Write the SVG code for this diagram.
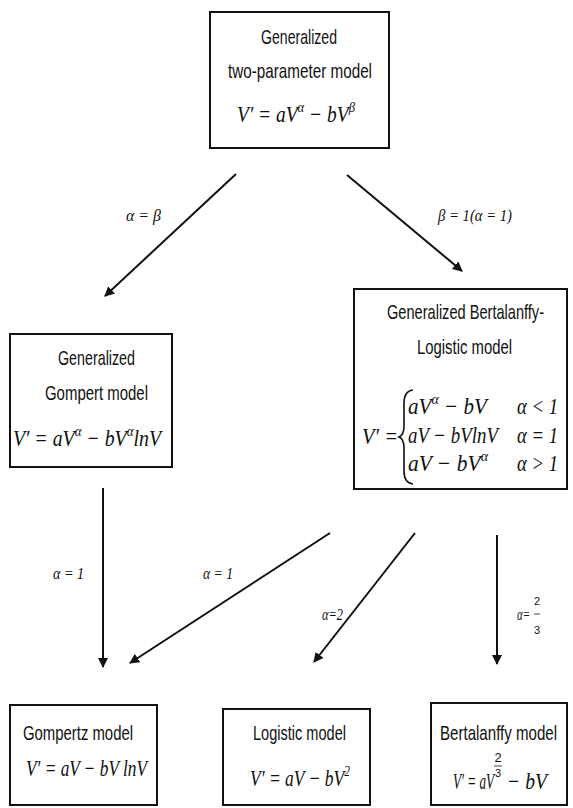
<svg xmlns="http://www.w3.org/2000/svg" width="573" height="808" viewBox="0 0 573 808">
<style>
.box{fill:#fff;stroke:#111;stroke-width:2}
.t{font-family:"Liberation Sans",Arial,sans-serif;font-size:21px;fill:#111}
.m{font-family:"Liberation Serif","Times New Roman",serif;font-style:italic;font-size:23px;fill:#111}
.l{font-family:"Liberation Serif","Times New Roman",serif;font-style:italic;font-size:16px;fill:#111}
.f{font-family:"Liberation Sans",Arial,sans-serif;fill:#111;text-anchor:middle}
.c{stroke:#111;stroke-width:2;fill:none;marker-end:url(#ah)}
</style>
<defs>
<marker id="ah" viewBox="0 0 10 10" refX="9" refY="5" markerWidth="5" markerHeight="5" orient="auto" markerUnits="strokeWidth">
<path d="M0,0 L10,5 L0,10 z" fill="#111"/>
</marker>
</defs>
<rect width="573" height="808" fill="#fff"/>
<g id="connectors">
<line class="c" x1="236" y1="174" x2="105" y2="296"/>
<line class="c" x1="347" y1="175" x2="462" y2="271"/>
<line class="c" x1="103" y1="488" x2="103" y2="667"/>
<line class="c" x1="330" y1="533" x2="130" y2="663"/>
<line class="c" x1="415" y1="533" x2="314" y2="662"/>
<line class="c" x1="497" y1="535" x2="497" y2="664"/>
<text class="l" x="126" y="221" textLength="35" lengthAdjust="spacingAndGlyphs">α = β</text>
<text class="l" x="438" y="221" textLength="74" lengthAdjust="spacingAndGlyphs">β = 1(α = 1)</text>
<text class="l" x="53" y="579" textLength="31" lengthAdjust="spacingAndGlyphs">α = 1</text>
<text class="l" x="203" y="579" textLength="30" lengthAdjust="spacingAndGlyphs">α = 1</text>
<text class="l" x="322" y="620" textLength="21" lengthAdjust="spacingAndGlyphs">α=2</text>
<text class="l" x="517" y="620" textLength="13" lengthAdjust="spacingAndGlyphs">α=</text>
<text class="f" x="537" y="605" font-size="11">2</text>
<line x1="534" y1="614" x2="540" y2="614" stroke="#111" stroke-width="0.8"/>
<text class="f" x="537" y="634" font-size="11">3</text>
</g>
<g id="n-top">
<rect class="box" x="210" y="12" width="179" height="136"/>
<text class="t" x="261" y="44" textLength="76" lengthAdjust="spacingAndGlyphs">Generalized</text>
<text class="t" x="228" y="78" textLength="144" lengthAdjust="spacingAndGlyphs">two-parameter model</text>
<text class="m" x="237" y="122" textLength="118" lengthAdjust="spacingAndGlyphs">V′ = aV<tspan font-size="15" dy="-10">α</tspan><tspan dy="10"> − bV</tspan><tspan font-size="15" dy="-10">β</tspan></text>
</g>
<g id="n-gompert">
<rect class="box" x="10" y="334" width="162" height="133"/>
<text class="t" x="58" y="365" textLength="77" lengthAdjust="spacingAndGlyphs">Generalized</text>
<text class="t" x="45" y="400" textLength="103" lengthAdjust="spacingAndGlyphs">Gompert model</text>
<text class="m" x="13" y="446" textLength="148" lengthAdjust="spacingAndGlyphs">V′ = aV<tspan font-size="15" dy="-10">α</tspan><tspan dy="10"> − bV</tspan><tspan font-size="15" dy="-10">α</tspan><tspan dy="10">lnV</tspan></text>
</g>
<g id="n-gbl">
<rect class="box" x="354" y="289" width="213" height="200"/>
<text class="t" x="387" y="319" textLength="157" lengthAdjust="spacingAndGlyphs">Generalized Bertalanffy-</text>
<text class="t" x="417" y="354" textLength="95" lengthAdjust="spacingAndGlyphs">Logistic model</text>
<text class="m" x="362" y="444" textLength="36" lengthAdjust="spacingAndGlyphs">V′ =</text>
<path d="M413,390 Q404,391 404,403 L404,426 Q404,435 399,437 Q404,439 404,448 L404,471 Q404,483 413,484" fill="none" stroke="#111" stroke-width="1.6"/>
<text class="m" x="408" y="414" textLength="79" lengthAdjust="spacingAndGlyphs">aV<tspan font-size="15" dy="-10">α</tspan><tspan dy="10"> − bV</tspan></text>
<text class="m" x="408" y="443" textLength="90" lengthAdjust="spacingAndGlyphs">aV − bVlnV</text>
<text class="m" x="408" y="471" textLength="80" lengthAdjust="spacingAndGlyphs">aV − bV<tspan font-size="15" dy="-10">α</tspan></text>
<text class="m" x="517" y="414" textLength="41" lengthAdjust="spacingAndGlyphs">α &lt; 1</text>
<text class="m" x="517" y="443" textLength="41" lengthAdjust="spacingAndGlyphs">α = 1</text>
<text class="m" x="517" y="471" textLength="41" lengthAdjust="spacingAndGlyphs">α &gt; 1</text>
</g>
<g id="n-gompertz">
<rect class="box" x="10" y="705" width="147" height="100"/>
<text class="t" x="23" y="740" textLength="110" lengthAdjust="spacingAndGlyphs">Gompertz model</text>
<text class="m" x="26" y="776" textLength="121" lengthAdjust="spacingAndGlyphs">V′ = aV − bV lnV</text>
</g>
<g id="n-logistic">
<rect class="box" x="223" y="709" width="147" height="96"/>
<text class="t" x="253" y="740" textLength="93" lengthAdjust="spacingAndGlyphs">Logistic model</text>
<text class="m" x="250" y="786" textLength="100" lengthAdjust="spacingAndGlyphs">V′ = aV − bV<tspan font-size="15" dy="-10">2</tspan></text>
</g>
<g id="n-bertalanffy">
<rect class="box" x="431" y="703" width="136" height="102"/>
<text class="t" x="440" y="740" textLength="117" lengthAdjust="spacingAndGlyphs">Bertalanffy model</text>
<text class="m" x="453" y="789" textLength="41" lengthAdjust="spacingAndGlyphs">V′ = aV</text>
<text class="f" x="498" y="762" font-size="13">2</text>
<line x1="494" y1="766" x2="502" y2="766" stroke="#111" stroke-width="0.8"/>
<text class="f" x="498" y="777" font-size="11">3</text>
<text class="m" x="507" y="789" textLength="40" lengthAdjust="spacingAndGlyphs">− bV</text>
</g>
</svg>
